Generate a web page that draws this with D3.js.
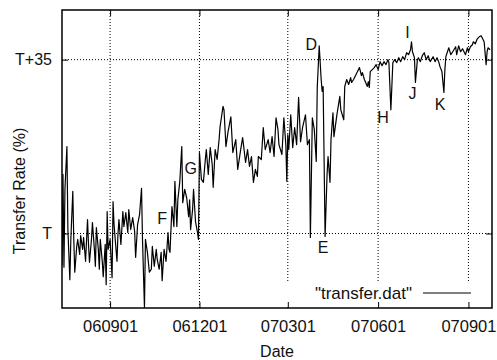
<!DOCTYPE html>
<meta charset="utf-8" />
<style>
  body {
    background: #fff;
    margin: 0px;
  }

  svg {
    font-family: "Liberation Sans", Arial, sans-serif;
  }

  .frame {
    fill: none;
    stroke: #000;
    stroke-width: 1.5px;
  }

  .grid {
    stroke: #000;
    stroke-width: 1px;
    stroke-dasharray: 1, 2;
  }

  .series {
    fill: none;
    stroke: #000;
    stroke-width: 1.2px;
    stroke-linejoin: round;
  }

  .tick line {
    stroke: #000;
    stroke-width: 1px;
  }

  .tick text,
  .title,
  .note {
    font-size: 16px;
    fill: #111;
  }

  .xaxis .tick text {
    font-size: 16.5px;
  }

  .key text {
    font-size: 17px;
    fill: #111;
  }
</style>
<body>
<script src="https://d3js.org/d3.v7.min.js"></script>
<script>
  var width = 497,
    height = 360;

  var margin = { top: 10, right: 5, bottom: 52, left: 62 };

  // first day of the file, x values are days after it
  var startDay = "060714";
  var endDay = "070925";

  // [day, rate relative to T]
  var transferDat = [
    [0, -6.4], [1, 11.9], [2, -6.8], [3, 8.9], [5, 17.5], [6, 0.8], [8, -9.3], [9, -1.2],
    [11, 8.5], [12, -1.2], [13, -7.8], [15, -2.6], [16, -1.2], [18, -4.2], [19, -0.4],
    [21, -3.2], [22, -0.8], [24, -5.6], [26, 2.8], [27, -2.2], [28, -5.8], [30, -1.2],
    [31, 2.2], [33, -3.2], [34, -6.6], [35, 1.2], [37, -3.2], [38, -7.2], [39, -1.2],
    [41, -5.6], [42, -8.7], [44, -2.2], [45, -10.3], [46, 4.4], [47, -3.2], [49, -1.2],
    [51, -8.9], [52, 6.4], [53, 1.8], [56, -5.6], [57, -0.2],
    [58, 2.8], [60, -2.2], [62, 4.4], [63, 1.4], [65, 4.2], [67, 0.2], [68, 4.8], [70, 0.8],
    [72, 3.2], [74, 0.4], [75, -4.8], [77, 1.8], [79, 3.8], [81, 9.1], [82, -1.2], [84, -14.9],
    [85, -1.2], [87, -3.8], [89, -7.8], [91, -7.2], [92, -2.6], [94, -6.6], [96, -3.2],
    [97, -5.2], [99, -7.2], [101, -3.8], [102, -9.5], [104, -3.2], [106, -5.6], [108, 0.2],
    [109, -3.2], [110, -3.8], [112, 5.4], [114, 1.4], [115, 10.5], [117, 1.4], [118, 6.8],
    [120, 10.5], [122, 17.5], [123, 6.2], [125, 8.9], [127, 7.2], [129, 3.4], [130, 6.8],
    [131, 0.8], [133, 4.8], [134, 8.9], [136, 2.4], [138, 0.2], [139, -1.2],
    [140, 16.3], [142, 10.9], [144, 10.3], [146, 14.9], [147, 16.9], [149, 11.9], [151, 17.3],
    [153, 13.9], [154, 9.3], [156, 16.9], [158, 14.9], [160, 18.9], [161, 21.5], [164, 25.6],
    [165, 24.9], [167, 17.5], [169, 20.3], [172, 23.5], [174, 16.3], [177, 18.9], [179, 12.9],
    [182, 16.9], [184, 19.3], [187, 14.3], [189, 16.9], [191, 13.5], [193, 15.5], [195, 10.3],
    [197, 12.9], [199, 11.5], [200, 15.5], [203, 14.9], [205, 21.3], [207, 16.9], [210, 18.9],
    [212, 16.3], [214, 19.5], [216, 15.5], [218, 23.3], [220, 20.9], [221, 17.9], [224, 15.9],
    [226, 23.3], [228, 17.9], [229, 10.5], [230, 19.9], [231, 16.9], [233, 23.9], [235, 17.3],
    [237, 21.3], [239, 17.9], [241, 27.4], [243, 18.5], [245, 21.3], [248, 23.9], [250, 17.9],
    [252, 18.9], [253, -0.8], [255, 23.3], [257, 20.9], [259, 14.5], [260, 29.4], [262, 37.8],
    [264, 31.0], [265, 28.6], [266, 29.6], [268, -0.6], [270, 11.9], [271, 15.5], [273, 10.3],
    [274, 18.9], [276, 24.3], [277, 19.5], [280, 23.9], [283, 27.6], [284, 24.9], [287, 22.9],
    [288, 29.6], [290, 31.0], [292, 30.0], [294, 31.4], [295, 30.4], [297, 31.0], [299, 31.8],
    [301, 32.6], [303, 33.4], [305, 31.8], [306, 32.4], [308, 31.0], [311, 29.6], [312, 30.6],
    [313, 29.4], [314, 32.6], [316, 33.0], [318, 33.4], [320, 34.0], [322, 33.0], [324, 34.6],
    [326, 33.8], [328, 34.6], [330, 34.0], [332, 35.0], [333, 34.4], [335, 24.9], [337, 34.4],
    [339, 35.0], [341, 34.4], [343, 35.4], [345, 34.6], [347, 35.6], [349, 35.0], [351, 36.4],
    [353, 36.0], [355, 37.0], [356, 38.6], [357, 36.6], [359, 35.4], [360, 30.4], [362, 35.0],
    [363, 35.4], [365, 34.6], [367, 35.8], [369, 36.4], [371, 35.0], [373, 35.8], [375, 34.6],
    [378, 35.6], [380, 34.6], [382, 35.4], [384, 34.4], [385, 33.6], [387, 32.6], [389, 28.4],
    [390, 33.0], [391, 35.6], [394, 37.4], [396, 36.0], [398, 36.6], [401, 37.6], [402, 36.0],
    [404, 37.8], [406, 36.6], [408, 37.2], [411, 36.0], [413, 37.4], [414, 36.6], [416, 37.6],
    [418, 38.0], [419, 38.6], [421, 38.2], [423, 39.2], [425, 39.6], [427, 39.8], [429, 39.0],
    [430, 38.6], [432, 34.0], [433, 36.6], [434, 37.4], [436, 37.0]
  ];

  // letter marks: [text, day, rate]
  var notes = [
    ["D", 254, 37.0],
    ["E", 266, -4.0],
    ["F", 102, 2.0],
    ["G", 131, 11.9],
    ["H", 327, 22.3],
    ["I", 352, 39.4],
    ["J", 357, 27.0],
    ["K", 385, 24.9]
  ];

  var xTickLabels = ["060901", "061201", "070301", "070601", "070901"];
  var yTickValues = [0, 35];
  var yTickLabels = ["T", "T+35"];
  var yDomain = [-15, 45];

  var parse = d3.timeParse("%y%m%d");
  var start = parse(startDay);

  var x = d3
    .scaleTime()
    .domain([start, parse(endDay)])
    .range([margin.left, width - margin.right]);

  var y = d3
    .scaleLinear()
    .domain(yDomain)
    .range([height - margin.bottom, margin.top]);

  var xTicks = xTickLabels.map(parse);

  function dayX(d) {
    return x(d3.timeDay.offset(start, d));
  }

  var svg = d3
    .select("body")
    .append("svg")
    .attr("width", width)
    .attr("height", height);

  svg
    .append("defs")
    .append("clipPath")
    .attr("id", "plot")
    .append("rect")
    .attr("x", margin.left)
    .attr("y", margin.top)
    .attr("width", width - margin.left - margin.right)
    .attr("height", height - margin.top - margin.bottom);

  // grid
  svg
    .selectAll(".vgrid")
    .data(xTicks)
    .enter()
    .append("line")
    .attr("class", "grid")
    .attr("x1", x)
    .attr("x2", x)
    .attr("y1", margin.top)
    .attr("y2", height - margin.bottom);

  svg
    .selectAll(".hgrid")
    .data(yTickValues)
    .enter()
    .append("line")
    .attr("class", "grid")
    .attr("x1", margin.left)
    .attr("x2", width - margin.right)
    .attr("y1", y)
    .attr("y2", y);

  // key box hides the grid under it
  var key = svg.append("g").attr("class", "key");
  key
    .append("rect")
    .attr("x", 282)
    .attr("y", 283)
    .attr("width", 208)
    .attr("height", 24)
    .style("fill", "#fff");
  key
    .append("text")
    .attr("x", 412)
    .attr("y", 298.5)
    .attr("text-anchor", "end")
    .text('"transfer.dat"');
  key
    .append("line")
    .attr("x1", 423)
    .attr("x2", 471)
    .attr("y1", 293)
    .attr("y2", 293)
    .style("stroke", "#000")
    .style("stroke-width", 1);

  var line = d3
    .line()
    .x(function (d) {
      return dayX(d[0]);
    })
    .y(function (d) {
      return y(d[1]);
    });

  svg
    .append("path")
    .datum(transferDat)
    .attr("class", "series")
    .attr("clip-path", "url(#plot)")
    .attr("d", line);

  svg
    .selectAll(".note")
    .data(notes)
    .enter()
    .append("text")
    .attr("class", "note")
    .attr("text-anchor", "middle")
    .attr("x", function (d) {
      return dayX(d[1]);
    })
    .attr("y", function (d) {
      return y(d[2]);
    })
    .text(function (d) {
      return d[0];
    });

  // axes, ticks point inward like gnuplot
  function styleAxis(g) {
    g.select(".domain").remove();
    g.attr("font-family", null).attr("font-size", null);
  }

  svg
    .append("g")
    .attr("class", "xaxis")
    .attr("transform", "translate(0," + (height - margin.bottom) + ")")
    .call(
      d3
        .axisBottom(x)
        .tickValues(xTicks)
        .tickFormat(function (d, i) {
          return xTickLabels[i];
        })
        .tickSizeInner(-6)
        .tickSizeOuter(0)
        .tickPadding(12)
    )
    .call(styleAxis);

  svg
    .append("g")
    .attr("transform", "translate(0," + margin.top + ")")
    .call(d3.axisTop(x).tickValues(xTicks).tickFormat("").tickSizeInner(-6).tickSizeOuter(0))
    .call(styleAxis);

  svg
    .append("g")
    .attr("transform", "translate(" + margin.left + ",0)")
    .call(
      d3
        .axisLeft(y)
        .tickValues(yTickValues)
        .tickFormat(function (d, i) {
          return yTickLabels[i];
        })
        .tickSizeInner(-6)
        .tickSizeOuter(0)
        .tickPadding(10)
    )
    .call(styleAxis);

  svg
    .append("g")
    .attr("transform", "translate(" + (width - margin.right) + ",0)")
    .call(d3.axisRight(y).tickValues(yTickValues).tickFormat("").tickSizeInner(-6).tickSizeOuter(0))
    .call(styleAxis);

  svg
    .append("rect")
    .attr("class", "frame")
    .attr("x", margin.left)
    .attr("y", margin.top)
    .attr("width", width - margin.left - margin.right)
    .attr("height", height - margin.top - margin.bottom);

  svg
    .append("text")
    .attr("class", "title")
    .attr("text-anchor", "middle")
    .attr("x", (margin.left + width - margin.right) / 2)
    .attr("y", 357)
    .text("Date");

  svg
    .append("text")
    .attr("class", "title")
    .attr("text-anchor", "middle")
    .attr("transform", "translate(24.5,191) rotate(-90)")
    .text("Transfer Rate (%)");
</script>
</body>
